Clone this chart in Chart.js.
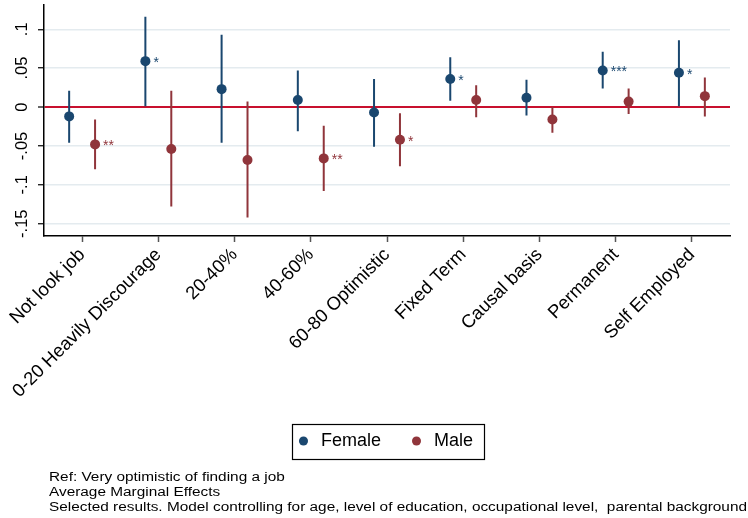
<!DOCTYPE html>
<html><head><meta charset="utf-8">
<script src="https://cdn.jsdelivr.net/npm/chart.js@4.4.1/dist/chart.umd.min.js"></script>
<style>html,body{margin:0;padding:0;background:#fff;} #c{display:block;}</style>
</head><body>
<canvas id="c" width="748" height="518"></canvas>
<script>
const categories = ['Not look job', '0-20 Heavily Discourage', '20-40%', '40-60%', '60-80 Optimistic', 'Fixed Term', 'Causal basis', 'Permanent', 'Self Employed'];
const seriesNames = ['Female', 'Male'];
const femaleEst = [-0.012, 0.059, 0.023, 0.009, -0.007, 0.036, 0.012, 0.047, 0.044];
const femaleLo  = [-0.046, 0.001, -0.046, -0.031, -0.051, 0.008, -0.011, 0.024, 0.001];
const femaleHi  = [0.021, 0.116, 0.093, 0.047, 0.036, 0.064, 0.035, 0.071, 0.086];
const maleEst   = [-0.048, -0.054, -0.068, -0.066, -0.042, 0.009, -0.016, 0.007, 0.014];
const maleLo    = [-0.080, -0.128, -0.142, -0.108, -0.076, -0.013, -0.033, -0.009, -0.012];
const maleHi    = [-0.016, 0.021, 0.007, -0.024, -0.008, 0.028, 0.000, 0.024, 0.038];
const femaleStars = ['', '*', '', '', '', '*', '', '***', '*'];
const maleStars   = ['**', '', '', '**', '*', '', '', '', ''];
const yTicks = [-0.15, -0.1, -0.05, 0, 0.05, 0.1];
const yTickLabels = ['-.15', '-.1', '-.05', '0', '.05', '.1'];
const notes = [
  'Ref: Very optimistic of finding a job',
  'Average Marginal Effects',
  'Selected results. Model controlling for age, level of education, occupational level,  parental background'
];

const FONT = "'Liberation Sans', Arial, Helvetica, sans-serif";
const NAVY = '#1a476f', MAROON = '#90353b';
const OFF = 0.17;

function pointData(est, off) { return est.map((v, i) => ({x: i + off, y: v})); }
function barData(lo, hi, off) {
  const d = [];
  lo.forEach((l, i) => { d.push({x: i + off, y: l}); d.push({x: i + off, y: hi[i]}); d.push({x: i + off, y: null}); });
  return d;
}

const starsPlugin = {
  id: 'stars',
  afterDatasetsDraw(chart) {
    const ctx = chart.ctx;
    ctx.save();
    ctx.font = '14px ' + FONT;
    ctx.textAlign = 'left';
    ctx.textBaseline = 'alphabetic';
    [[0, femaleStars, NAVY], [1, maleStars, MAROON]].forEach(([di, stars, col]) => {
      const meta = chart.getDatasetMeta(di);
      ctx.fillStyle = col;
      stars.forEach((s, i) => {
        if (!s) return;
        const el = meta.data[i];
        ctx.fillText(s, el.x + 8, el.y + 6);
      });
    });
    ctx.restore();
  }
};

const frameAndNotes = {
  id: 'frameAndNotes',
  afterLayout(chart) {
    if (chart.legend) { chart.legend.left -= 3; chart.legend.right -= 3; }
  },
  afterDraw(chart) {
    const ctx = chart.ctx;
    const hb = chart.legend && chart.legend.legendHitBoxes;
    ctx.save();
    if (hb && hb.length >= 2) {
      const l = hb[0].left - 3, r = hb[1].left + hb[1].width + 11;
      const cy = hb[0].top + hb[0].height / 2;
      ctx.strokeStyle = '#000';
      ctx.lineWidth = 1.2;
      ctx.strokeRect(Math.round(l) + 0.5, Math.round(cy - 17) + 0.5, Math.round(r - l), 35);
    }
    ctx.font = '12px ' + FONT;
    ctx.fillStyle = '#000';
    ctx.textBaseline = 'middle';
    ctx.textAlign = 'left';
    const sx = 698 / ctx.measureText(notes[2]).width;
    notes.forEach((t, i) => {
      ctx.save();
      ctx.translate(49, 478 + 15 * i);
      ctx.scale(sx, 1);
      ctx.fillText(t, 0, 0);
      ctx.restore();
    });
    ctx.restore();
  }
};

new Chart(document.getElementById('c'), {
  type: 'scatter',
  data: {
    datasets: [
      {label: seriesNames[0], data: pointData(femaleEst, -OFF), pointStyle: 'circle', pointRadius: 5, pointHoverRadius: 5,
       backgroundColor: NAVY, borderColor: NAVY, pointBorderWidth: 0},
      {label: seriesNames[1], data: pointData(maleEst, OFF), pointStyle: 'circle', pointRadius: 5, pointHoverRadius: 5,
       backgroundColor: MAROON, borderColor: MAROON, pointBorderWidth: 0},
      {label: 'Female CI', data: barData(femaleLo, femaleHi, -OFF), showLine: true, spanGaps: false, pointRadius: 0,
       borderColor: NAVY, borderWidth: 2, backgroundColor: NAVY},
      {label: 'Male CI', data: barData(maleLo, maleHi, OFF), showLine: true, spanGaps: false, pointRadius: 0,
       borderColor: MAROON, borderWidth: 2, backgroundColor: MAROON}
    ]
  },
  options: {
    responsive: false,
    animation: false,
    devicePixelRatio: 1,
    layout: {padding: {left: 0, right: 18, top: 5, bottom: 58}},
    plugins: {
      tooltip: {enabled: false},
      title: {display: false},
      legend: {
        position: 'bottom', fullSize: false, align: 'center',
        labels: {
          usePointStyle: true, pointStyle: 'circle', boxWidth: 17, boxHeight: 6.4, padding: 27,
          color: '#000', font: {family: FONT, size: 18},
          filter: (it) => it.datasetIndex < 2
        }
      }
    },
    scales: {
      x: {
        type: 'linear', min: -0.5, max: 8.5,
        afterBuildTicks: (s) => { s.ticks = categories.map((c, i) => ({value: i})); },
        afterFit: (s) => { s.height = 169; s.paddingLeft = 0; s.paddingRight = 0; },
        grid: {display: true, drawOnChartArea: false, drawTicks: true, tickLength: 6, tickColor: '#555', tickWidth: 1.5},
        border: {display: true, color: '#000', width: 1.5},
        ticks: {autoSkip: false, maxRotation: 45, minRotation: 45, padding: 2, labelOffset: 0, color: '#000',
                font: {family: FONT, size: 18.5}, callback: (v) => categories[Math.round(v)]}
      },
      y: {
        min: -0.1658, max: 0.1312,
        afterBuildTicks: (s) => { s.ticks = yTicks.map(v => ({value: v})); },
        afterFit: (s) => { s.width = 44; s.paddingTop = 0; s.paddingBottom = 0; },
        grid: {
          color: (c) => (c.tick && c.tick.value === 0) ? '#c8102e' : '#e4ebef',
          lineWidth: (c) => (c.tick && c.tick.value === 0) ? 2 : 1.5,
          tickColor: '#000', tickLength: 6, tickWidth: 1.2
        },
        border: {display: true, color: '#000', width: 1.5},
        ticks: {minRotation: 90, maxRotation: 90, crossAlign: 'center', padding: 1, color: '#000',
                font: {family: FONT, size: 16.5}, callback: (v, i) => yTickLabels[i]}
      }
    }
  },
  plugins: [starsPlugin, frameAndNotes]
});
</script>
</body></html>
